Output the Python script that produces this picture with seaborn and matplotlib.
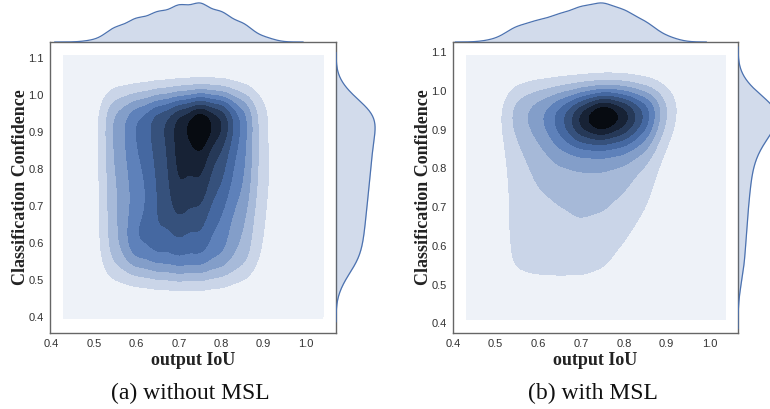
import numpy as np
import pandas as pd
import matplotlib
matplotlib.use("Agg")
import matplotlib.pyplot as plt
import matplotlib.colors as mcolors
import seaborn as sns
from seaborn._statistics import KDE

sns.set_theme(style="white")
plt.rcParams["font.family"] = ["Liberation Sans", "DejaVu Sans"]

# ---------------- data ----------------
iou_centers = [0.50, 0.55, 0.60, 0.65, 0.70, 0.75, 0.80, 0.85, 0.90]
conf_centers = [1.00, 0.95, 0.90, 0.85, 0.80, 0.75, 0.70, 0.65, 0.60, 0.55, 0.50]

# relative sample mass at each (confidence row, IoU column)
mass_without_msl = [
    [0.3, 1.3, 1.6, 2.1, 2.5, 2.9, 2.6, 1.6, 0.5],
    [0.3, 3.1, 4.7, 6.3, 7.9, 10.0, 8.0, 4.5, 1.0],
    [0.3, 3.0, 4.5, 5.8, 7.4, 9.8, 7.3, 4.1, 0.9],
    [0.3, 2.9, 4.4, 5.6, 7.5, 8.0, 6.0, 4.0, 1.0],
    [0.3, 2.8, 4.2, 5.4, 7.4, 7.5, 5.6, 3.8, 1.1],
    [0.3, 2.6, 4.0, 5.3, 7.2, 6.9, 5.2, 3.6, 1.0],
    [0.3, 2.6, 3.9, 5.3, 6.8, 6.3, 4.6, 3.2, 0.9],
    [0.3, 2.5, 4.4, 5.4, 5.9, 5.6, 4.2, 2.8, 0.8],
    [0.3, 2.4, 4.8, 5.0, 5.1, 5.0, 3.9, 2.5, 0.7],
    [0.25, 2.0, 3.5, 4.2, 4.6, 4.5, 3.5, 2.2, 0.5],
    [0.15, 0.8, 1.1, 1.4, 1.6, 1.6, 1.3, 0.8, 0.2],
]
mass_with_msl = [
    [0.2, 1.1, 1.5, 1.8, 2.1, 2.3, 2.1, 1.5, 0.6],
    [0.25, 2.3, 3.2, 4.8, 7.3, 10.5, 8.0, 5.5, 1.6],
    [0.2, 1.7, 2.5, 4.0, 6.5, 7.5, 6.3, 4.0, 1.0],
    [0.2, 1.4, 2.0, 2.8, 3.2, 3.3, 3.1, 2.4, 0.5],
    [0.2, 1.2, 1.7, 2.1, 2.2, 2.2, 2.0, 1.3, 0.35],
    [0.2, 1.1, 1.5, 1.8, 1.9, 1.9, 1.6, 1.0, 0.25],
    [0.2, 1.1, 1.3, 1.4, 1.7, 1.6, 1.3, 0.8, 0.1],
    [0.2, 1.1, 1.3, 1.4, 1.4, 1.3, 1.0, 0.5, 0.05],
    [0.2, 1.0, 1.2, 1.2, 1.2, 1.1, 0.7, 0.2, 0.05],
    [0.15, 1.0, 1.1, 1.1, 1.1, 0.9, 0.4, 0.1, 0.05],
    [0.08, 0.35, 0.45, 0.5, 0.5, 0.4, 0.2, 0.05, 0.05],
]

x_ticks = [0.4, 0.5, 0.6, 0.7, 0.8, 0.9, 1.0]
y_ticks = [0.4, 0.5, 0.6, 0.7, 0.8, 0.9, 1.0, 1.1]
x_label = "output IoU"
y_label = "Classification Confidence"
captions = ["(a) without MSL", "(b) with MSL"]

# ---------------- styling ----------------
W, H = 770, 409
BLUE = "#4c72b0"
base_rgb = mcolors.to_rgb(BLUE)
cmap = sns.blend_palette([sns.utils.set_hls_values(base_rgb, l=l)
                          for l in np.linspace(1, 0, 12)], as_cmap=True)
JOINT_BW = 0.55
MARG_BW = 0.6
N_BANDS = 10


def to_frame(mass):
    xx, yy = np.meshgrid(iou_centers, conf_centers)
    df = pd.DataFrame({"iou": xx.ravel(), "conf": yy.ravel(),
                       "w": np.asarray(mass, float).ravel()})
    return df[df.w > 0].reset_index(drop=True)


def equal_density_props(df, clip):
    est = KDE(bw_adjust=JOINT_BW, gridsize=200, cut=8, clip=clip)
    dens, _ = est(df["iou"], df["conf"], weights=df["w"])
    tot = dens.sum()
    lv = np.linspace(dens.min(), dens.max(), N_BANDS + 1)
    props = [0.0]
    for l in lv[1:-1]:
        props.append(1 - dens[dens >= l].sum() / tot)
    props.append(1.0)
    props = np.maximum.accumulate(np.clip(props, 0, 1))
    out = [props[0]]
    for p in props[1:]:
        out.append(max(p, out[-1] + 1e-6))
    return np.clip(out, 0, 1)


def px_rect(x0, y0, x1, y1):
    return [x0 / W, 1 - y1 / H, (x1 - x0) / W, (y1 - y0) / H]


fig = plt.figure(figsize=(W / 100, H / 100), dpi=100)

panels = [
    dict(mass=mass_without_msl, frame=(50, 42, 336, 333),
         xlim=(0.396, 1.0705), ylim=(0.356, 1.1424),
         clip=((0.427, 1.04), (0.394, 1.107)), cap_x=190),
    dict(mass=mass_with_msl, frame=(453, 42, 738, 333),
         xlim=(0.402, 1.0667), ylim=(0.375, 1.1266),
         clip=((0.4324, 1.0364), (0.4096, 1.092)), cap_x=593),
]

for p, cap in zip(panels, captions):
    df = to_frame(p["mass"])
    x0, y0, x1, y1 = p["frame"]
    ax = fig.add_axes(px_rect(x0, y0, x1, y1))
    ax_top = fig.add_axes(px_rect(x0, 0, x1, y0))
    ax_right = fig.add_axes(px_rect(x1, y0, x1 + 42, y1))

    props = equal_density_props(df, p["clip"])
    sns.kdeplot(data=df, x="iou", y="conf", weights="w", fill=True,
                levels=props, cmap=cmap, bw_adjust=JOINT_BW, cut=8,
                clip=p["clip"], gridsize=200, ax=ax)
    ax.set_xlim(*p["xlim"])
    ax.set_ylim(*p["ylim"])
    ax.set_xticks(x_ticks)
    ax.set_yticks(y_ticks)
    ax.set_xticklabels([f"{t:.1f}" for t in x_ticks])
    ax.set_yticklabels([f"{t:.1f}" for t in y_ticks])
    ax.tick_params(length=0, pad=4.5, labelsize=8, labelcolor="#333333")
    for s in ax.spines.values():
        s.set_color("#666666")
        s.set_linewidth(1.0)
    lab_font = dict(family=["Liberation Serif", "DejaVu Serif"],
                    weight="bold", size=13, color="#222222")
    ax.set_xlabel(x_label, fontdict=lab_font)
    ax.set_ylabel(y_label, fontdict=lab_font)
    ax.xaxis.set_label_coords(0.5, -0.065)
    ax.yaxis.set_label_coords(-0.075, 0.5)

    # top marginal
    sns.kdeplot(data=df, x="iou", weights="w", fill=True, color=BLUE,
                linewidth=0, bw_adjust=MARG_BW, ax=ax_top)
    sns.kdeplot(data=df, x="iou", weights="w", fill=False, color=BLUE,
                linewidth=0.9, bw_adjust=MARG_BW, ax=ax_top)
    ax_top.set_xlim(*p["xlim"])
    ymax = ax_top.lines[0].get_ydata().max()
    ax_top.set_ylim(0, ymax * 1.075)
    ax_top.set_axis_off()

    # right marginal
    sns.kdeplot(data=df, y="conf", weights="w", fill=True, color=BLUE,
                linewidth=0, bw_adjust=MARG_BW, ax=ax_right)
    sns.kdeplot(data=df, y="conf", weights="w", fill=False, color=BLUE,
                linewidth=0.9, bw_adjust=MARG_BW, ax=ax_right)
    ax_right.set_ylim(*p["ylim"])
    xmax = ax_right.lines[0].get_xdata().max()
    ax_right.set_xlim(0, xmax * 1.075)
    ax_right.set_axis_off()

    fig.text(p["cap_x"] / W, 1 - 393 / H, cap, ha="center", va="center",
             family=["Liberation Serif", "DejaVu Serif"], size=17,
             color="#111111")

fig.savefig("out.png", dpi=100)
